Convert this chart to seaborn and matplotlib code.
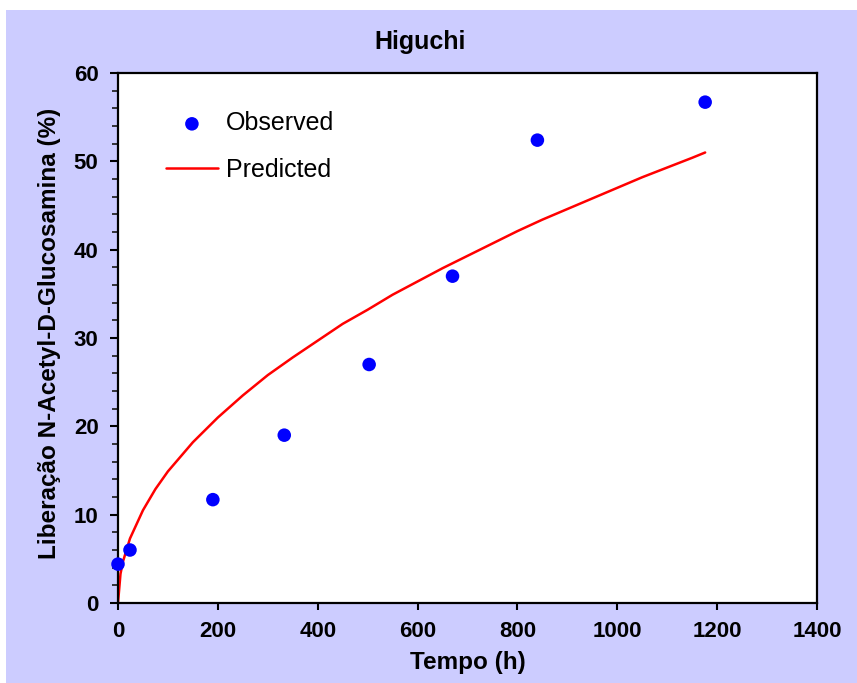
import matplotlib
matplotlib.use("Agg")
import matplotlib.pyplot as plt
import seaborn as sns
import pandas as pd
from matplotlib.patches import Rectangle

# Observed data
obs_time = [0, 24, 190, 333, 503, 670, 840, 1176]
obs_release = [4.4, 6.0, 11.7, 19.0, 27.0, 37.0, 52.4, 56.7]

# Predicted (Higuchi model) curve
pred_time = [0, 5, 10, 24, 50, 75, 100, 150, 200, 250, 300, 350, 400, 450, 500,
             550, 600, 650, 700, 750, 800, 850, 900, 950, 1000, 1050, 1100, 1150, 1176]
pred_release = [0.0, 3.3, 4.7, 7.3, 10.5, 12.9, 14.9, 18.2, 21.0, 23.5, 25.8, 27.8,
                29.7, 31.6, 33.2, 34.9, 36.4, 37.9, 39.3, 40.7, 42.1, 43.4, 44.6,
                45.8, 47.0, 48.2, 49.3, 50.4, 51.0]

title = "Higuchi"
xlabel = "Tempo (h)"
ylabel = "Liberação N-Acetyl-D-Glucosamina (%)"

sns.set_style("ticks")
plt.rcParams['font.family'] = ['Liberation Sans', 'DejaVu Sans']
plt.rcParams['text.color'] = 'black'
plt.rcParams['axes.labelcolor'] = 'black'

BG = "#CCCCFF"
fig = plt.figure(figsize=(8.57, 6.83), dpi=100, facecolor=BG)
# thin white margins at top and left
fig.patches.append(Rectangle((0, 1 - 10/683), 1, 10/683, transform=fig.transFigure,
                             facecolor="white", edgecolor="none", zorder=-10))
fig.patches.append(Rectangle((0, 0), 6/857, 1, transform=fig.transFigure,
                             facecolor="white", edgecolor="none", zorder=-10))

ax = fig.add_axes([118/857, 1 - 603/683, (817 - 118)/857, (603 - 73)/683])
ax.set_facecolor("white")

obs_df = pd.DataFrame({"t": obs_time, "r": obs_release})
pred_df = pd.DataFrame({"t": pred_time, "r": pred_release})

sns.lineplot(data=pred_df, x="t", y="r", ax=ax, color="#FF0000", linewidth=1.8,
             label="Predicted", zorder=2)
sns.scatterplot(data=obs_df, x="t", y="r", ax=ax, color="#0000FF", s=95,
                edgecolor="none", label="Observed", zorder=3, clip_on=False)

ax.set_xlim(0, 1400)
ax.set_ylim(0, 60)
ax.set_xticks(range(0, 1401, 200))
ax.set_yticks(range(0, 61, 10))
ax.set_yticks(range(0, 61, 2), minor=True)

for side in ["left", "right", "top", "bottom"]:
    ax.spines[side].set_visible(True)
    ax.spines[side].set_linewidth(1.6)
    ax.spines[side].set_color("black")

ax.tick_params(axis="y", which="major", direction="out", length=6, width=1.5,
               labelsize=16, colors="black", pad=8)
ax.tick_params(axis="x", which="major", direction="out", length=5, width=1.5,
               labelsize=16, colors="black", pad=8)
ax.tick_params(axis="y", which="minor", direction="out", length=4, width=1.3)
ax.tick_params(axis="x", which="minor", length=0)
for lab in ax.get_xticklabels() + ax.get_yticklabels():
    lab.set_fontweight("bold")

ax.set_xlabel(xlabel, fontsize=17.5, fontweight="bold", color="black")
ax.xaxis.set_label_coords(0.5, -(663 - 603) / 530, transform=ax.transAxes)
ax.xaxis.label.set_va("center")
ax.set_ylabel(ylabel, fontsize=17.5, fontweight="bold", color="black")
ax.yaxis.set_label_coords(-(118 - 50) / 699, (603 - 333) / 530, transform=ax.transAxes)
ax.yaxis.label.set_va("center")
fig.text(420 / 857, 1 - 42/683, title, ha="center", va="center",
         fontsize=18, fontweight="bold", color="black")

handles, labels = ax.get_legend_handles_labels()
order = [labels.index("Observed"), labels.index("Predicted")]
leg = ax.legend([handles[i] for i in order], [labels[i] for i in order],
                loc="upper left", bbox_to_anchor=(0.036, 0.97), frameon=False,
                fontsize=18, handlelength=2.1, handletextpad=0.3, labelspacing=0.9,
                markerscale=1.0)
for t in leg.get_texts():
    t.set_color("black")

fig.savefig("out.png", dpi=100, facecolor=BG)
